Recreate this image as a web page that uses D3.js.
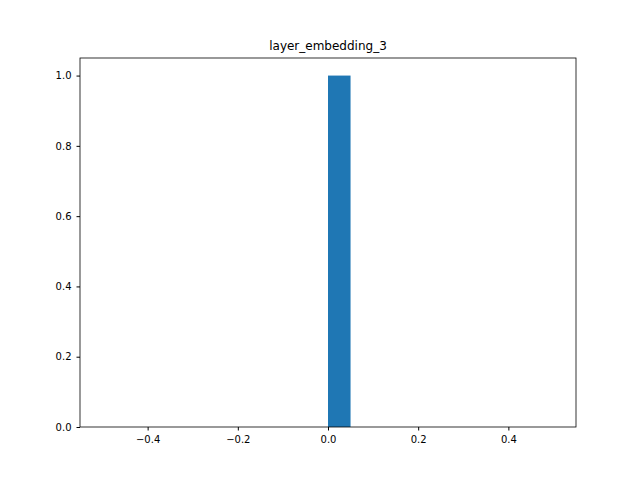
<!DOCTYPE html>
<html><head><meta charset="utf-8">
<script src="https://cdn.jsdelivr.net/npm/d3@7"></script>
<style>body{margin:0;background:#fff}text{font-family:"DejaVu Sans",sans-serif}</style>
</head><body><svg id="c" width="640" height="480"></svg>
<script>
var title = "layer_embedding_3";
var binStarts = [0.0];
var binWidths = [0.05];
var counts = [1.0];
var xTicks = [-0.4, -0.2, 0.0, 0.2, 0.4];
var yTicks = [0.0, 0.2, 0.4, 0.6, 0.8, 1.0];

var svg = d3.select('#c');
var m = {l: 80, r: 64, t: 58, b: 53};
var w = 640 - m.l - m.r, h = 480 - m.t - m.b;
var x = d3.scaleLinear().domain([-0.55, 0.55]).range([0, w]);
var y = d3.scaleLinear().domain([0, 1.05]).range([h, 0]);
var g = svg.append('g').attr('transform', 'translate(' + m.l + ',' + m.t + ')');

g.selectAll('rect.bar').data(counts).enter().append('rect')
  .attr('fill', '#1f77b4')
  .attr('x', function(d, i) { return x(binStarts[i]); })
  .attr('width', function(d, i) { return x(binStarts[i] + binWidths[i]) - x(binStarts[i]); })
  .attr('y', function(d) { return y(d); })
  .attr('height', function(d) { return y(0) - y(d); });

var xa = g.append('g').attr('transform', 'translate(0,' + h + ')')
  .call(d3.axisBottom(x).tickValues(xTicks).tickSize(3.5).tickPadding(5).tickFormat(d3.format('.1f')));
var ya = g.append('g')
  .call(d3.axisLeft(y).tickValues(yTicks).tickSize(3.5).tickPadding(5).tickFormat(d3.format('.1f')));
[xa, ya].forEach(function(a) {
  a.select('.domain').remove();
  a.selectAll('text').attr('font-size', 10).attr('fill', '#000').style('font-family', 'DejaVu Sans');
  a.selectAll('line').attr('stroke', '#000');
});
xa.selectAll('text').text(function(d) { return d3.format('.1f')(d).replace('-', '\u2212'); });

g.append('rect').attr('width', w).attr('height', h)
  .attr('fill', 'none').attr('stroke', '#000').attr('stroke-width', 0.8);

svg.append('text').attr('x', m.l + w / 2).attr('y', m.t - 8)
  .attr('text-anchor', 'middle').attr('font-size', 12).text(title);
</script></body></html>
